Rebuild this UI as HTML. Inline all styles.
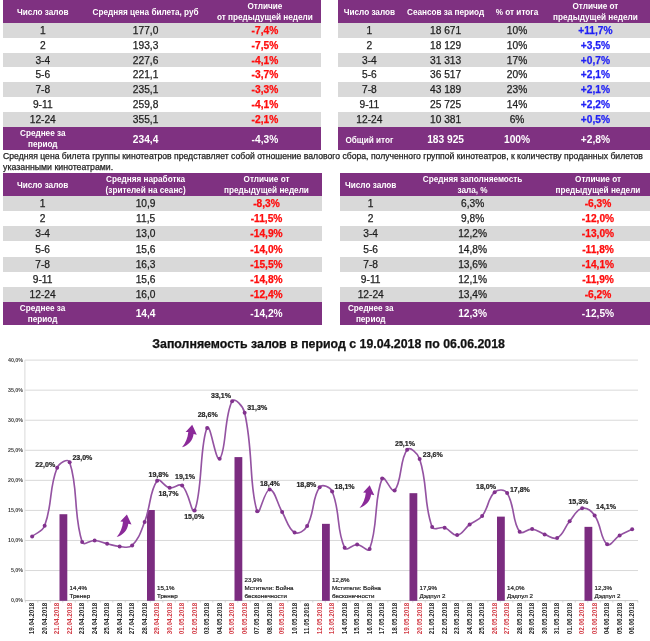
<!DOCTYPE html>
<html lang="ru"><head><meta charset="utf-8"><title>Заполняемость залов</title>
<style>
html,body{margin:0;padding:0;background:#fff;}
body{width:650px;height:641px;overflow:hidden;position:relative;will-change:transform;font-family:"Liberation Sans",Arial,sans-serif;}
.t{position:absolute;white-space:nowrap;}
.r{position:absolute;}
.xl{width:40px;height:7.2px;font-size:6.3px;font-weight:700;line-height:7.2px;text-align:center;transform:rotate(-90deg);}
</style></head><body>
<div class="r" style="left:3.00px;top:0.00px;width:317.80px;height:22.80px;background:#7f3181"></div>
<div class="r" style="left:3.00px;top:22.80px;width:317.80px;height:14.90px;background:#d9d9d9"></div>
<div class="r" style="left:3.00px;top:52.60px;width:317.80px;height:14.90px;background:#d9d9d9"></div>
<div class="r" style="left:3.00px;top:82.40px;width:317.80px;height:14.90px;background:#d9d9d9"></div>
<div class="r" style="left:3.00px;top:112.20px;width:317.80px;height:14.90px;background:#d9d9d9"></div>
<div class="r" style="left:3.00px;top:127.10px;width:317.80px;height:22.80px;background:#7f3181"></div>
<div class="t" style="left:-157.25px;top:7.84px;width:400px;font-size:8.2px;line-height:9.84px;text-align:center;color:#fff;font-weight:700;">Число залов</div>
<div class="t" style="left:-54.40px;top:7.84px;width:400px;font-size:8.2px;line-height:9.84px;text-align:center;color:#fff;font-weight:700;">Средняя цена билета, руб</div>
<div class="t" style="left:64.90px;top:2.14px;width:400px;font-size:8.2px;line-height:9.84px;text-align:center;color:#fff;font-weight:700;">Отличие</div>
<div class="t" style="left:64.90px;top:13.44px;width:400px;font-size:8.2px;line-height:9.84px;text-align:center;color:#fff;font-weight:700;">от предыдущей недели</div>
<div class="t" style="left:-157.25px;top:24.75px;width:400px;font-size:10.2px;line-height:12.24px;text-align:center;color:#1e1e1e;-webkit-text-stroke:0.25px currentColor;">1</div>
<div class="t" style="left:-54.40px;top:24.75px;width:400px;font-size:10.2px;line-height:12.24px;text-align:center;color:#1e1e1e;-webkit-text-stroke:0.25px currentColor;">177,0</div>
<div class="t" style="left:64.90px;top:24.75px;width:400px;font-size:10.2px;line-height:12.24px;text-align:center;color:#ff0d0d;font-weight:700;-webkit-text-stroke:0.25px currentColor;">-7,4%</div>
<div class="t" style="left:-157.25px;top:39.65px;width:400px;font-size:10.2px;line-height:12.24px;text-align:center;color:#1e1e1e;-webkit-text-stroke:0.25px currentColor;">2</div>
<div class="t" style="left:-54.40px;top:39.65px;width:400px;font-size:10.2px;line-height:12.24px;text-align:center;color:#1e1e1e;-webkit-text-stroke:0.25px currentColor;">193,3</div>
<div class="t" style="left:64.90px;top:39.65px;width:400px;font-size:10.2px;line-height:12.24px;text-align:center;color:#ff0d0d;font-weight:700;-webkit-text-stroke:0.25px currentColor;">-7,5%</div>
<div class="t" style="left:-157.25px;top:54.55px;width:400px;font-size:10.2px;line-height:12.24px;text-align:center;color:#1e1e1e;-webkit-text-stroke:0.25px currentColor;">3-4</div>
<div class="t" style="left:-54.40px;top:54.55px;width:400px;font-size:10.2px;line-height:12.24px;text-align:center;color:#1e1e1e;-webkit-text-stroke:0.25px currentColor;">227,6</div>
<div class="t" style="left:64.90px;top:54.55px;width:400px;font-size:10.2px;line-height:12.24px;text-align:center;color:#ff0d0d;font-weight:700;-webkit-text-stroke:0.25px currentColor;">-4,1%</div>
<div class="t" style="left:-157.25px;top:69.45px;width:400px;font-size:10.2px;line-height:12.24px;text-align:center;color:#1e1e1e;-webkit-text-stroke:0.25px currentColor;">5-6</div>
<div class="t" style="left:-54.40px;top:69.45px;width:400px;font-size:10.2px;line-height:12.24px;text-align:center;color:#1e1e1e;-webkit-text-stroke:0.25px currentColor;">221,1</div>
<div class="t" style="left:64.90px;top:69.45px;width:400px;font-size:10.2px;line-height:12.24px;text-align:center;color:#ff0d0d;font-weight:700;-webkit-text-stroke:0.25px currentColor;">-3,7%</div>
<div class="t" style="left:-157.25px;top:84.35px;width:400px;font-size:10.2px;line-height:12.24px;text-align:center;color:#1e1e1e;-webkit-text-stroke:0.25px currentColor;">7-8</div>
<div class="t" style="left:-54.40px;top:84.35px;width:400px;font-size:10.2px;line-height:12.24px;text-align:center;color:#1e1e1e;-webkit-text-stroke:0.25px currentColor;">235,1</div>
<div class="t" style="left:64.90px;top:84.35px;width:400px;font-size:10.2px;line-height:12.24px;text-align:center;color:#ff0d0d;font-weight:700;-webkit-text-stroke:0.25px currentColor;">-3,3%</div>
<div class="t" style="left:-157.25px;top:99.25px;width:400px;font-size:10.2px;line-height:12.24px;text-align:center;color:#1e1e1e;-webkit-text-stroke:0.25px currentColor;">9-11</div>
<div class="t" style="left:-54.40px;top:99.25px;width:400px;font-size:10.2px;line-height:12.24px;text-align:center;color:#1e1e1e;-webkit-text-stroke:0.25px currentColor;">259,8</div>
<div class="t" style="left:64.90px;top:99.25px;width:400px;font-size:10.2px;line-height:12.24px;text-align:center;color:#ff0d0d;font-weight:700;-webkit-text-stroke:0.25px currentColor;">-4,1%</div>
<div class="t" style="left:-157.25px;top:114.15px;width:400px;font-size:10.2px;line-height:12.24px;text-align:center;color:#1e1e1e;-webkit-text-stroke:0.25px currentColor;">12-24</div>
<div class="t" style="left:-54.40px;top:114.15px;width:400px;font-size:10.2px;line-height:12.24px;text-align:center;color:#1e1e1e;-webkit-text-stroke:0.25px currentColor;">355,1</div>
<div class="t" style="left:64.90px;top:114.15px;width:400px;font-size:10.2px;line-height:12.24px;text-align:center;color:#ff0d0d;font-weight:700;-webkit-text-stroke:0.25px currentColor;">-2,1%</div>
<div class="t" style="left:-157.25px;top:128.64px;width:400px;font-size:8.2px;line-height:9.84px;text-align:center;color:#fff;font-weight:700;">Среднее за</div>
<div class="t" style="left:-157.25px;top:140.04px;width:400px;font-size:8.2px;line-height:9.84px;text-align:center;color:#fff;font-weight:700;">период</div>
<div class="t" style="left:-54.40px;top:134.25px;width:400px;font-size:10.2px;line-height:12.24px;text-align:center;color:#fff;font-weight:700;">234,4</div>
<div class="t" style="left:64.90px;top:134.25px;width:400px;font-size:10.2px;line-height:12.24px;text-align:center;color:#fff;font-weight:700;">-4,3%</div>
<div class="r" style="left:338.00px;top:0.00px;width:312.00px;height:22.80px;background:#7f3181"></div>
<div class="r" style="left:338.00px;top:22.80px;width:312.00px;height:14.90px;background:#d9d9d9"></div>
<div class="r" style="left:338.00px;top:52.60px;width:312.00px;height:14.90px;background:#d9d9d9"></div>
<div class="r" style="left:338.00px;top:82.40px;width:312.00px;height:14.90px;background:#d9d9d9"></div>
<div class="r" style="left:338.00px;top:112.20px;width:312.00px;height:14.90px;background:#d9d9d9"></div>
<div class="r" style="left:338.00px;top:127.10px;width:312.00px;height:22.80px;background:#7f3181"></div>
<div class="t" style="left:169.40px;top:7.84px;width:400px;font-size:8.2px;line-height:9.84px;text-align:center;color:#fff;font-weight:700;">Число залов</div>
<div class="t" style="left:245.60px;top:7.84px;width:400px;font-size:8.2px;line-height:9.84px;text-align:center;color:#fff;font-weight:700;">Сеансов за период</div>
<div class="t" style="left:317.00px;top:7.84px;width:400px;font-size:8.2px;line-height:9.84px;text-align:center;color:#fff;font-weight:700;">% от итога</div>
<div class="t" style="left:395.40px;top:2.14px;width:400px;font-size:8.2px;line-height:9.84px;text-align:center;color:#fff;font-weight:700;">Отличие от</div>
<div class="t" style="left:395.40px;top:13.44px;width:400px;font-size:8.2px;line-height:9.84px;text-align:center;color:#fff;font-weight:700;">предыдущей недели</div>
<div class="t" style="left:169.40px;top:24.75px;width:400px;font-size:10.2px;line-height:12.24px;text-align:center;color:#1e1e1e;-webkit-text-stroke:0.25px currentColor;">1</div>
<div class="t" style="left:245.60px;top:24.75px;width:400px;font-size:10.2px;line-height:12.24px;text-align:center;color:#1e1e1e;-webkit-text-stroke:0.25px currentColor;">18 671</div>
<div class="t" style="left:317.00px;top:24.75px;width:400px;font-size:10.2px;line-height:12.24px;text-align:center;color:#1e1e1e;-webkit-text-stroke:0.25px currentColor;">10%</div>
<div class="t" style="left:395.40px;top:24.75px;width:400px;font-size:10.2px;line-height:12.24px;text-align:center;color:#1f1ff5;font-weight:700;-webkit-text-stroke:0.25px currentColor;">+11,7%</div>
<div class="t" style="left:169.40px;top:39.65px;width:400px;font-size:10.2px;line-height:12.24px;text-align:center;color:#1e1e1e;-webkit-text-stroke:0.25px currentColor;">2</div>
<div class="t" style="left:245.60px;top:39.65px;width:400px;font-size:10.2px;line-height:12.24px;text-align:center;color:#1e1e1e;-webkit-text-stroke:0.25px currentColor;">18 129</div>
<div class="t" style="left:317.00px;top:39.65px;width:400px;font-size:10.2px;line-height:12.24px;text-align:center;color:#1e1e1e;-webkit-text-stroke:0.25px currentColor;">10%</div>
<div class="t" style="left:395.40px;top:39.65px;width:400px;font-size:10.2px;line-height:12.24px;text-align:center;color:#1f1ff5;font-weight:700;-webkit-text-stroke:0.25px currentColor;">+3,5%</div>
<div class="t" style="left:169.40px;top:54.55px;width:400px;font-size:10.2px;line-height:12.24px;text-align:center;color:#1e1e1e;-webkit-text-stroke:0.25px currentColor;">3-4</div>
<div class="t" style="left:245.60px;top:54.55px;width:400px;font-size:10.2px;line-height:12.24px;text-align:center;color:#1e1e1e;-webkit-text-stroke:0.25px currentColor;">31 313</div>
<div class="t" style="left:317.00px;top:54.55px;width:400px;font-size:10.2px;line-height:12.24px;text-align:center;color:#1e1e1e;-webkit-text-stroke:0.25px currentColor;">17%</div>
<div class="t" style="left:395.40px;top:54.55px;width:400px;font-size:10.2px;line-height:12.24px;text-align:center;color:#1f1ff5;font-weight:700;-webkit-text-stroke:0.25px currentColor;">+0,7%</div>
<div class="t" style="left:169.40px;top:69.45px;width:400px;font-size:10.2px;line-height:12.24px;text-align:center;color:#1e1e1e;-webkit-text-stroke:0.25px currentColor;">5-6</div>
<div class="t" style="left:245.60px;top:69.45px;width:400px;font-size:10.2px;line-height:12.24px;text-align:center;color:#1e1e1e;-webkit-text-stroke:0.25px currentColor;">36 517</div>
<div class="t" style="left:317.00px;top:69.45px;width:400px;font-size:10.2px;line-height:12.24px;text-align:center;color:#1e1e1e;-webkit-text-stroke:0.25px currentColor;">20%</div>
<div class="t" style="left:395.40px;top:69.45px;width:400px;font-size:10.2px;line-height:12.24px;text-align:center;color:#1f1ff5;font-weight:700;-webkit-text-stroke:0.25px currentColor;">+2,1%</div>
<div class="t" style="left:169.40px;top:84.35px;width:400px;font-size:10.2px;line-height:12.24px;text-align:center;color:#1e1e1e;-webkit-text-stroke:0.25px currentColor;">7-8</div>
<div class="t" style="left:245.60px;top:84.35px;width:400px;font-size:10.2px;line-height:12.24px;text-align:center;color:#1e1e1e;-webkit-text-stroke:0.25px currentColor;">43 189</div>
<div class="t" style="left:317.00px;top:84.35px;width:400px;font-size:10.2px;line-height:12.24px;text-align:center;color:#1e1e1e;-webkit-text-stroke:0.25px currentColor;">23%</div>
<div class="t" style="left:395.40px;top:84.35px;width:400px;font-size:10.2px;line-height:12.24px;text-align:center;color:#1f1ff5;font-weight:700;-webkit-text-stroke:0.25px currentColor;">+2,1%</div>
<div class="t" style="left:169.40px;top:99.25px;width:400px;font-size:10.2px;line-height:12.24px;text-align:center;color:#1e1e1e;-webkit-text-stroke:0.25px currentColor;">9-11</div>
<div class="t" style="left:245.60px;top:99.25px;width:400px;font-size:10.2px;line-height:12.24px;text-align:center;color:#1e1e1e;-webkit-text-stroke:0.25px currentColor;">25 725</div>
<div class="t" style="left:317.00px;top:99.25px;width:400px;font-size:10.2px;line-height:12.24px;text-align:center;color:#1e1e1e;-webkit-text-stroke:0.25px currentColor;">14%</div>
<div class="t" style="left:395.40px;top:99.25px;width:400px;font-size:10.2px;line-height:12.24px;text-align:center;color:#1f1ff5;font-weight:700;-webkit-text-stroke:0.25px currentColor;">+2,2%</div>
<div class="t" style="left:169.40px;top:114.15px;width:400px;font-size:10.2px;line-height:12.24px;text-align:center;color:#1e1e1e;-webkit-text-stroke:0.25px currentColor;">12-24</div>
<div class="t" style="left:245.60px;top:114.15px;width:400px;font-size:10.2px;line-height:12.24px;text-align:center;color:#1e1e1e;-webkit-text-stroke:0.25px currentColor;">10 381</div>
<div class="t" style="left:317.00px;top:114.15px;width:400px;font-size:10.2px;line-height:12.24px;text-align:center;color:#1e1e1e;-webkit-text-stroke:0.25px currentColor;">6%</div>
<div class="t" style="left:395.40px;top:114.15px;width:400px;font-size:10.2px;line-height:12.24px;text-align:center;color:#1f1ff5;font-weight:700;-webkit-text-stroke:0.25px currentColor;">+0,5%</div>
<div class="t" style="left:169.40px;top:136.14px;width:400px;font-size:8.2px;line-height:9.84px;text-align:center;color:#fff;font-weight:700;">Общий итог</div>
<div class="t" style="left:245.60px;top:134.25px;width:400px;font-size:10.2px;line-height:12.24px;text-align:center;color:#fff;font-weight:700;">183 925</div>
<div class="t" style="left:317.00px;top:134.25px;width:400px;font-size:10.2px;line-height:12.24px;text-align:center;color:#fff;font-weight:700;">100%</div>
<div class="t" style="left:395.40px;top:134.25px;width:400px;font-size:10.2px;line-height:12.24px;text-align:center;color:#fff;font-weight:700;">+2,8%</div>
<div class="t" style="left:3.10px;top:150.83px;width:400px;font-size:8.63px;line-height:10.36px;text-align:left;color:#1e1e1e;-webkit-text-stroke:0.25px currentColor;">Средняя цена билета группы кинотеатров представляет собой отношение валового сбора, полученного группой кинотеатров, к количеству проданных билетов</div>
<div class="t" style="left:3.10px;top:161.82px;width:400px;font-size:8.75px;line-height:10.50px;text-align:left;color:#1e1e1e;-webkit-text-stroke:0.25px currentColor;">указанными кинотеатрами.</div>
<div class="r" style="left:3.00px;top:173.00px;width:319.00px;height:22.60px;background:#7f3181"></div>
<div class="r" style="left:3.00px;top:195.60px;width:319.00px;height:15.25px;background:#d9d9d9"></div>
<div class="r" style="left:3.00px;top:226.10px;width:319.00px;height:15.25px;background:#d9d9d9"></div>
<div class="r" style="left:3.00px;top:256.60px;width:319.00px;height:15.25px;background:#d9d9d9"></div>
<div class="r" style="left:3.00px;top:287.10px;width:319.00px;height:15.25px;background:#d9d9d9"></div>
<div class="r" style="left:3.00px;top:302.35px;width:319.00px;height:22.65px;background:#7f3181"></div>
<div class="t" style="left:-157.40px;top:181.34px;width:400px;font-size:8.2px;line-height:9.84px;text-align:center;color:#fff;font-weight:700;">Число залов</div>
<div class="t" style="left:-54.40px;top:175.04px;width:400px;font-size:8.2px;line-height:9.84px;text-align:center;color:#fff;font-weight:700;">Средняя наработка</div>
<div class="t" style="left:-54.40px;top:185.84px;width:400px;font-size:8.2px;line-height:9.84px;text-align:center;color:#fff;font-weight:700;">(зрителей на сеанс)</div>
<div class="t" style="left:66.50px;top:175.04px;width:400px;font-size:8.2px;line-height:9.84px;text-align:center;color:#fff;font-weight:700;">Отличие от</div>
<div class="t" style="left:66.50px;top:185.84px;width:400px;font-size:8.2px;line-height:9.84px;text-align:center;color:#fff;font-weight:700;">предыдущей недели</div>
<div class="t" style="left:-157.40px;top:197.95px;width:400px;font-size:10.2px;line-height:12.24px;text-align:center;color:#1e1e1e;-webkit-text-stroke:0.25px currentColor;">1</div>
<div class="t" style="left:-54.40px;top:197.95px;width:400px;font-size:10.2px;line-height:12.24px;text-align:center;color:#1e1e1e;-webkit-text-stroke:0.25px currentColor;">10,9</div>
<div class="t" style="left:66.50px;top:197.95px;width:400px;font-size:10.2px;line-height:12.24px;text-align:center;color:#ff0d0d;font-weight:700;-webkit-text-stroke:0.25px currentColor;">-8,3%</div>
<div class="t" style="left:-157.40px;top:213.20px;width:400px;font-size:10.2px;line-height:12.24px;text-align:center;color:#1e1e1e;-webkit-text-stroke:0.25px currentColor;">2</div>
<div class="t" style="left:-54.40px;top:213.20px;width:400px;font-size:10.2px;line-height:12.24px;text-align:center;color:#1e1e1e;-webkit-text-stroke:0.25px currentColor;">11,5</div>
<div class="t" style="left:66.50px;top:213.20px;width:400px;font-size:10.2px;line-height:12.24px;text-align:center;color:#ff0d0d;font-weight:700;-webkit-text-stroke:0.25px currentColor;">-11,5%</div>
<div class="t" style="left:-157.40px;top:228.45px;width:400px;font-size:10.2px;line-height:12.24px;text-align:center;color:#1e1e1e;-webkit-text-stroke:0.25px currentColor;">3-4</div>
<div class="t" style="left:-54.40px;top:228.45px;width:400px;font-size:10.2px;line-height:12.24px;text-align:center;color:#1e1e1e;-webkit-text-stroke:0.25px currentColor;">13,0</div>
<div class="t" style="left:66.50px;top:228.45px;width:400px;font-size:10.2px;line-height:12.24px;text-align:center;color:#ff0d0d;font-weight:700;-webkit-text-stroke:0.25px currentColor;">-14,9%</div>
<div class="t" style="left:-157.40px;top:243.70px;width:400px;font-size:10.2px;line-height:12.24px;text-align:center;color:#1e1e1e;-webkit-text-stroke:0.25px currentColor;">5-6</div>
<div class="t" style="left:-54.40px;top:243.70px;width:400px;font-size:10.2px;line-height:12.24px;text-align:center;color:#1e1e1e;-webkit-text-stroke:0.25px currentColor;">15,6</div>
<div class="t" style="left:66.50px;top:243.70px;width:400px;font-size:10.2px;line-height:12.24px;text-align:center;color:#ff0d0d;font-weight:700;-webkit-text-stroke:0.25px currentColor;">-14,0%</div>
<div class="t" style="left:-157.40px;top:258.95px;width:400px;font-size:10.2px;line-height:12.24px;text-align:center;color:#1e1e1e;-webkit-text-stroke:0.25px currentColor;">7-8</div>
<div class="t" style="left:-54.40px;top:258.95px;width:400px;font-size:10.2px;line-height:12.24px;text-align:center;color:#1e1e1e;-webkit-text-stroke:0.25px currentColor;">16,3</div>
<div class="t" style="left:66.50px;top:258.95px;width:400px;font-size:10.2px;line-height:12.24px;text-align:center;color:#ff0d0d;font-weight:700;-webkit-text-stroke:0.25px currentColor;">-15,5%</div>
<div class="t" style="left:-157.40px;top:274.20px;width:400px;font-size:10.2px;line-height:12.24px;text-align:center;color:#1e1e1e;-webkit-text-stroke:0.25px currentColor;">9-11</div>
<div class="t" style="left:-54.40px;top:274.20px;width:400px;font-size:10.2px;line-height:12.24px;text-align:center;color:#1e1e1e;-webkit-text-stroke:0.25px currentColor;">15,6</div>
<div class="t" style="left:66.50px;top:274.20px;width:400px;font-size:10.2px;line-height:12.24px;text-align:center;color:#ff0d0d;font-weight:700;-webkit-text-stroke:0.25px currentColor;">-14,8%</div>
<div class="t" style="left:-157.40px;top:289.45px;width:400px;font-size:10.2px;line-height:12.24px;text-align:center;color:#1e1e1e;-webkit-text-stroke:0.25px currentColor;">12-24</div>
<div class="t" style="left:-54.40px;top:289.45px;width:400px;font-size:10.2px;line-height:12.24px;text-align:center;color:#1e1e1e;-webkit-text-stroke:0.25px currentColor;">16,0</div>
<div class="t" style="left:66.50px;top:289.45px;width:400px;font-size:10.2px;line-height:12.24px;text-align:center;color:#ff0d0d;font-weight:700;-webkit-text-stroke:0.25px currentColor;">-12,4%</div>
<div class="t" style="left:-157.40px;top:303.94px;width:400px;font-size:8.2px;line-height:9.84px;text-align:center;color:#fff;font-weight:700;">Среднее за</div>
<div class="t" style="left:-157.40px;top:315.14px;width:400px;font-size:8.2px;line-height:9.84px;text-align:center;color:#fff;font-weight:700;">период</div>
<div class="t" style="left:-54.40px;top:308.05px;width:400px;font-size:10.2px;line-height:12.24px;text-align:center;color:#fff;font-weight:700;">14,4</div>
<div class="t" style="left:66.50px;top:308.05px;width:400px;font-size:10.2px;line-height:12.24px;text-align:center;color:#fff;font-weight:700;">-14,2%</div>
<div class="r" style="left:339.60px;top:173.00px;width:310.40px;height:22.60px;background:#7f3181"></div>
<div class="r" style="left:339.60px;top:195.60px;width:310.40px;height:15.25px;background:#d9d9d9"></div>
<div class="r" style="left:339.60px;top:226.10px;width:310.40px;height:15.25px;background:#d9d9d9"></div>
<div class="r" style="left:339.60px;top:256.60px;width:310.40px;height:15.25px;background:#d9d9d9"></div>
<div class="r" style="left:339.60px;top:287.10px;width:310.40px;height:15.25px;background:#d9d9d9"></div>
<div class="r" style="left:339.60px;top:302.35px;width:310.40px;height:22.65px;background:#7f3181"></div>
<div class="t" style="left:170.70px;top:181.34px;width:400px;font-size:8.2px;line-height:9.84px;text-align:center;color:#fff;font-weight:700;">Число залов</div>
<div class="t" style="left:272.60px;top:175.04px;width:400px;font-size:8.2px;line-height:9.84px;text-align:center;color:#fff;font-weight:700;">Средняя заполняемость</div>
<div class="t" style="left:272.60px;top:185.84px;width:400px;font-size:8.2px;line-height:9.84px;text-align:center;color:#fff;font-weight:700;">зала, %</div>
<div class="t" style="left:398.00px;top:175.04px;width:400px;font-size:8.2px;line-height:9.84px;text-align:center;color:#fff;font-weight:700;">Отличие от</div>
<div class="t" style="left:398.00px;top:185.84px;width:400px;font-size:8.2px;line-height:9.84px;text-align:center;color:#fff;font-weight:700;">предыдущей недели</div>
<div class="t" style="left:170.70px;top:197.95px;width:400px;font-size:10.2px;line-height:12.24px;text-align:center;color:#1e1e1e;-webkit-text-stroke:0.25px currentColor;">1</div>
<div class="t" style="left:272.60px;top:197.95px;width:400px;font-size:10.2px;line-height:12.24px;text-align:center;color:#1e1e1e;-webkit-text-stroke:0.25px currentColor;">6,3%</div>
<div class="t" style="left:398.00px;top:197.95px;width:400px;font-size:10.2px;line-height:12.24px;text-align:center;color:#ff0d0d;font-weight:700;-webkit-text-stroke:0.25px currentColor;">-6,3%</div>
<div class="t" style="left:170.70px;top:213.20px;width:400px;font-size:10.2px;line-height:12.24px;text-align:center;color:#1e1e1e;-webkit-text-stroke:0.25px currentColor;">2</div>
<div class="t" style="left:272.60px;top:213.20px;width:400px;font-size:10.2px;line-height:12.24px;text-align:center;color:#1e1e1e;-webkit-text-stroke:0.25px currentColor;">9,8%</div>
<div class="t" style="left:398.00px;top:213.20px;width:400px;font-size:10.2px;line-height:12.24px;text-align:center;color:#ff0d0d;font-weight:700;-webkit-text-stroke:0.25px currentColor;">-12,0%</div>
<div class="t" style="left:170.70px;top:228.45px;width:400px;font-size:10.2px;line-height:12.24px;text-align:center;color:#1e1e1e;-webkit-text-stroke:0.25px currentColor;">3-4</div>
<div class="t" style="left:272.60px;top:228.45px;width:400px;font-size:10.2px;line-height:12.24px;text-align:center;color:#1e1e1e;-webkit-text-stroke:0.25px currentColor;">12,2%</div>
<div class="t" style="left:398.00px;top:228.45px;width:400px;font-size:10.2px;line-height:12.24px;text-align:center;color:#ff0d0d;font-weight:700;-webkit-text-stroke:0.25px currentColor;">-13,0%</div>
<div class="t" style="left:170.70px;top:243.70px;width:400px;font-size:10.2px;line-height:12.24px;text-align:center;color:#1e1e1e;-webkit-text-stroke:0.25px currentColor;">5-6</div>
<div class="t" style="left:272.60px;top:243.70px;width:400px;font-size:10.2px;line-height:12.24px;text-align:center;color:#1e1e1e;-webkit-text-stroke:0.25px currentColor;">14,8%</div>
<div class="t" style="left:398.00px;top:243.70px;width:400px;font-size:10.2px;line-height:12.24px;text-align:center;color:#ff0d0d;font-weight:700;-webkit-text-stroke:0.25px currentColor;">-11,8%</div>
<div class="t" style="left:170.70px;top:258.95px;width:400px;font-size:10.2px;line-height:12.24px;text-align:center;color:#1e1e1e;-webkit-text-stroke:0.25px currentColor;">7-8</div>
<div class="t" style="left:272.60px;top:258.95px;width:400px;font-size:10.2px;line-height:12.24px;text-align:center;color:#1e1e1e;-webkit-text-stroke:0.25px currentColor;">13,6%</div>
<div class="t" style="left:398.00px;top:258.95px;width:400px;font-size:10.2px;line-height:12.24px;text-align:center;color:#ff0d0d;font-weight:700;-webkit-text-stroke:0.25px currentColor;">-14,1%</div>
<div class="t" style="left:170.70px;top:274.20px;width:400px;font-size:10.2px;line-height:12.24px;text-align:center;color:#1e1e1e;-webkit-text-stroke:0.25px currentColor;">9-11</div>
<div class="t" style="left:272.60px;top:274.20px;width:400px;font-size:10.2px;line-height:12.24px;text-align:center;color:#1e1e1e;-webkit-text-stroke:0.25px currentColor;">12,1%</div>
<div class="t" style="left:398.00px;top:274.20px;width:400px;font-size:10.2px;line-height:12.24px;text-align:center;color:#ff0d0d;font-weight:700;-webkit-text-stroke:0.25px currentColor;">-11,9%</div>
<div class="t" style="left:170.70px;top:289.45px;width:400px;font-size:10.2px;line-height:12.24px;text-align:center;color:#1e1e1e;-webkit-text-stroke:0.25px currentColor;">12-24</div>
<div class="t" style="left:272.60px;top:289.45px;width:400px;font-size:10.2px;line-height:12.24px;text-align:center;color:#1e1e1e;-webkit-text-stroke:0.25px currentColor;">13,4%</div>
<div class="t" style="left:398.00px;top:289.45px;width:400px;font-size:10.2px;line-height:12.24px;text-align:center;color:#ff0d0d;font-weight:700;-webkit-text-stroke:0.25px currentColor;">-6,2%</div>
<div class="t" style="left:170.70px;top:303.94px;width:400px;font-size:8.2px;line-height:9.84px;text-align:center;color:#fff;font-weight:700;">Среднее за</div>
<div class="t" style="left:170.70px;top:315.14px;width:400px;font-size:8.2px;line-height:9.84px;text-align:center;color:#fff;font-weight:700;">период</div>
<div class="t" style="left:272.60px;top:308.05px;width:400px;font-size:10.2px;line-height:12.24px;text-align:center;color:#fff;font-weight:700;">12,3%</div>
<div class="t" style="left:398.00px;top:308.05px;width:400px;font-size:10.2px;line-height:12.24px;text-align:center;color:#fff;font-weight:700;">-12,5%</div>
<svg class="ch" width="650" height="641" viewBox="0 0 650 641" style="position:absolute;left:0;top:0">
<line x1="24.9" y1="570.54" x2="638.00" y2="570.54" stroke="#d9d9d9" stroke-width="1"/>
<line x1="24.9" y1="540.48" x2="638.00" y2="540.48" stroke="#d9d9d9" stroke-width="1"/>
<line x1="24.9" y1="510.41" x2="638.00" y2="510.41" stroke="#d9d9d9" stroke-width="1"/>
<line x1="24.9" y1="480.35" x2="638.00" y2="480.35" stroke="#d9d9d9" stroke-width="1"/>
<line x1="24.9" y1="450.29" x2="638.00" y2="450.29" stroke="#d9d9d9" stroke-width="1"/>
<line x1="24.9" y1="420.23" x2="638.00" y2="420.23" stroke="#d9d9d9" stroke-width="1"/>
<line x1="24.9" y1="390.16" x2="638.00" y2="390.16" stroke="#d9d9d9" stroke-width="1"/>
<line x1="24.9" y1="360.10" x2="638.00" y2="360.10" stroke="#d9d9d9" stroke-width="1"/>
<line x1="24.9" y1="360.10" x2="24.9" y2="600.60" stroke="#d9d9d9" stroke-width="1"/>
<line x1="24.9" y1="600.60" x2="638.00" y2="600.60" stroke="#c8c8c8" stroke-width="1"/>
<line x1="25.30" y1="600.60" x2="25.30" y2="602.60" stroke="#c8c8c8" stroke-width="0.8"/>
<line x1="37.80" y1="600.60" x2="37.80" y2="602.60" stroke="#c8c8c8" stroke-width="0.8"/>
<line x1="50.30" y1="600.60" x2="50.30" y2="602.60" stroke="#c8c8c8" stroke-width="0.8"/>
<line x1="62.80" y1="600.60" x2="62.80" y2="602.60" stroke="#c8c8c8" stroke-width="0.8"/>
<line x1="75.30" y1="600.60" x2="75.30" y2="602.60" stroke="#c8c8c8" stroke-width="0.8"/>
<line x1="87.80" y1="600.60" x2="87.80" y2="602.60" stroke="#c8c8c8" stroke-width="0.8"/>
<line x1="100.30" y1="600.60" x2="100.30" y2="602.60" stroke="#c8c8c8" stroke-width="0.8"/>
<line x1="112.80" y1="600.60" x2="112.80" y2="602.60" stroke="#c8c8c8" stroke-width="0.8"/>
<line x1="125.30" y1="600.60" x2="125.30" y2="602.60" stroke="#c8c8c8" stroke-width="0.8"/>
<line x1="137.80" y1="600.60" x2="137.80" y2="602.60" stroke="#c8c8c8" stroke-width="0.8"/>
<line x1="150.30" y1="600.60" x2="150.30" y2="602.60" stroke="#c8c8c8" stroke-width="0.8"/>
<line x1="162.80" y1="600.60" x2="162.80" y2="602.60" stroke="#c8c8c8" stroke-width="0.8"/>
<line x1="175.30" y1="600.60" x2="175.30" y2="602.60" stroke="#c8c8c8" stroke-width="0.8"/>
<line x1="187.80" y1="600.60" x2="187.80" y2="602.60" stroke="#c8c8c8" stroke-width="0.8"/>
<line x1="200.30" y1="600.60" x2="200.30" y2="602.60" stroke="#c8c8c8" stroke-width="0.8"/>
<line x1="212.80" y1="600.60" x2="212.80" y2="602.60" stroke="#c8c8c8" stroke-width="0.8"/>
<line x1="225.30" y1="600.60" x2="225.30" y2="602.60" stroke="#c8c8c8" stroke-width="0.8"/>
<line x1="237.80" y1="600.60" x2="237.80" y2="602.60" stroke="#c8c8c8" stroke-width="0.8"/>
<line x1="250.30" y1="600.60" x2="250.30" y2="602.60" stroke="#c8c8c8" stroke-width="0.8"/>
<line x1="262.80" y1="600.60" x2="262.80" y2="602.60" stroke="#c8c8c8" stroke-width="0.8"/>
<line x1="275.30" y1="600.60" x2="275.30" y2="602.60" stroke="#c8c8c8" stroke-width="0.8"/>
<line x1="287.80" y1="600.60" x2="287.80" y2="602.60" stroke="#c8c8c8" stroke-width="0.8"/>
<line x1="300.30" y1="600.60" x2="300.30" y2="602.60" stroke="#c8c8c8" stroke-width="0.8"/>
<line x1="312.80" y1="600.60" x2="312.80" y2="602.60" stroke="#c8c8c8" stroke-width="0.8"/>
<line x1="325.30" y1="600.60" x2="325.30" y2="602.60" stroke="#c8c8c8" stroke-width="0.8"/>
<line x1="337.80" y1="600.60" x2="337.80" y2="602.60" stroke="#c8c8c8" stroke-width="0.8"/>
<line x1="350.30" y1="600.60" x2="350.30" y2="602.60" stroke="#c8c8c8" stroke-width="0.8"/>
<line x1="362.80" y1="600.60" x2="362.80" y2="602.60" stroke="#c8c8c8" stroke-width="0.8"/>
<line x1="375.30" y1="600.60" x2="375.30" y2="602.60" stroke="#c8c8c8" stroke-width="0.8"/>
<line x1="387.80" y1="600.60" x2="387.80" y2="602.60" stroke="#c8c8c8" stroke-width="0.8"/>
<line x1="400.30" y1="600.60" x2="400.30" y2="602.60" stroke="#c8c8c8" stroke-width="0.8"/>
<line x1="412.80" y1="600.60" x2="412.80" y2="602.60" stroke="#c8c8c8" stroke-width="0.8"/>
<line x1="425.30" y1="600.60" x2="425.30" y2="602.60" stroke="#c8c8c8" stroke-width="0.8"/>
<line x1="437.80" y1="600.60" x2="437.80" y2="602.60" stroke="#c8c8c8" stroke-width="0.8"/>
<line x1="450.30" y1="600.60" x2="450.30" y2="602.60" stroke="#c8c8c8" stroke-width="0.8"/>
<line x1="462.80" y1="600.60" x2="462.80" y2="602.60" stroke="#c8c8c8" stroke-width="0.8"/>
<line x1="475.30" y1="600.60" x2="475.30" y2="602.60" stroke="#c8c8c8" stroke-width="0.8"/>
<line x1="487.80" y1="600.60" x2="487.80" y2="602.60" stroke="#c8c8c8" stroke-width="0.8"/>
<line x1="500.30" y1="600.60" x2="500.30" y2="602.60" stroke="#c8c8c8" stroke-width="0.8"/>
<line x1="512.80" y1="600.60" x2="512.80" y2="602.60" stroke="#c8c8c8" stroke-width="0.8"/>
<line x1="525.30" y1="600.60" x2="525.30" y2="602.60" stroke="#c8c8c8" stroke-width="0.8"/>
<line x1="537.80" y1="600.60" x2="537.80" y2="602.60" stroke="#c8c8c8" stroke-width="0.8"/>
<line x1="550.30" y1="600.60" x2="550.30" y2="602.60" stroke="#c8c8c8" stroke-width="0.8"/>
<line x1="562.80" y1="600.60" x2="562.80" y2="602.60" stroke="#c8c8c8" stroke-width="0.8"/>
<line x1="575.30" y1="600.60" x2="575.30" y2="602.60" stroke="#c8c8c8" stroke-width="0.8"/>
<line x1="587.80" y1="600.60" x2="587.80" y2="602.60" stroke="#c8c8c8" stroke-width="0.8"/>
<line x1="600.30" y1="600.60" x2="600.30" y2="602.60" stroke="#c8c8c8" stroke-width="0.8"/>
<line x1="612.80" y1="600.60" x2="612.80" y2="602.60" stroke="#c8c8c8" stroke-width="0.8"/>
<line x1="625.30" y1="600.60" x2="625.30" y2="602.60" stroke="#c8c8c8" stroke-width="0.8"/>
<line x1="637.80" y1="600.60" x2="637.80" y2="602.60" stroke="#c8c8c8" stroke-width="0.8"/>
<rect x="59.50" y="514.22" width="7.8" height="86.58" fill="#7b2c80"/>
<rect x="147.00" y="510.01" width="7.8" height="90.79" fill="#7b2c80"/>
<rect x="234.50" y="457.10" width="7.8" height="143.70" fill="#7b2c80"/>
<rect x="322.00" y="523.84" width="7.8" height="76.96" fill="#7b2c80"/>
<rect x="409.50" y="493.18" width="7.8" height="107.62" fill="#7b2c80"/>
<rect x="497.00" y="516.63" width="7.8" height="84.17" fill="#7b2c80"/>
<rect x="584.50" y="526.85" width="7.8" height="73.95" fill="#7b2c80"/>
<path d="M32.15,536.40 C37.40,531.95 42.38,532.04 44.65,525.80 C52.88,503.22 48.62,489.50 57.15,467.80 C59.12,462.79 68.13,457.68 69.65,462.20 C78.63,488.89 73.07,513.65 82.15,542.10 C83.57,546.53 89.46,540.17 94.65,540.50 C99.96,540.84 101.88,542.44 107.15,543.70 C112.38,544.96 114.35,546.14 119.65,546.50 C124.85,546.85 128.79,548.71 132.15,545.40 C139.29,538.38 140.63,532.28 144.65,521.90 C151.13,505.15 149.28,491.54 157.15,480.80 C159.78,477.22 164.08,486.73 169.65,487.80 C174.58,488.75 178.86,482.62 182.15,485.60 C189.36,492.11 192.03,516.45 194.65,510.40 C202.53,492.22 199.65,443.39 207.15,427.90 C210.15,421.71 215.86,462.85 219.65,458.80 C226.36,451.64 224.00,416.23 232.15,401.20 C234.50,396.87 243.12,405.95 244.65,412.70 C253.62,452.19 248.77,485.55 257.15,511.30 C259.27,517.81 264.46,489.35 269.65,489.50 C274.96,489.65 276.72,502.66 282.15,512.00 C287.22,520.72 288.03,528.79 294.65,532.50 C298.53,534.67 304.45,530.88 307.15,526.00 C314.95,511.90 311.72,498.24 319.65,487.30 C322.22,483.75 330.20,486.77 332.15,491.50 C340.70,512.18 336.07,529.58 344.65,547.80 C346.57,551.88 351.96,544.37 357.15,544.60 C362.46,544.83 368.01,553.23 369.65,548.90 C378.51,525.51 373.69,498.40 382.15,478.60 C384.19,473.83 391.63,493.89 394.65,490.40 C402.13,481.77 399.45,459.45 407.15,449.75 C409.95,446.22 417.73,452.97 419.65,458.90 C428.23,485.45 423.26,502.62 432.15,527.10 C433.76,531.52 439.79,526.14 444.65,527.70 C450.29,529.50 452.22,535.73 457.15,535.10 C462.72,534.39 464.19,528.67 469.65,524.50 C474.69,520.65 478.37,520.88 482.15,516.00 C488.87,507.32 487.49,498.76 494.65,492.20 C497.99,489.14 504.68,489.18 507.15,493.10 C515.18,505.81 511.66,520.30 519.65,531.80 C522.16,535.42 527.06,528.57 532.15,529.10 C537.56,529.66 539.28,532.51 544.65,534.40 C549.78,536.21 553.11,540.02 557.15,537.90 C563.61,534.51 564.03,527.96 569.65,521.30 C574.53,515.52 576.32,509.65 582.15,508.30 C586.82,507.22 591.34,510.74 594.65,515.50 C601.84,525.86 600.10,538.69 607.15,544.30 C610.60,547.04 614.14,538.70 619.65,535.40 C624.64,532.40 626.90,531.86 632.15,529.30" fill="none" stroke="#9453a2" stroke-width="1.65" stroke-linejoin="round"/>
<circle cx="32.15" cy="536.40" r="2.0" fill="#82328e"/>
<circle cx="44.65" cy="525.80" r="2.0" fill="#82328e"/>
<circle cx="57.15" cy="467.80" r="2.0" fill="#82328e"/>
<circle cx="69.65" cy="462.20" r="2.0" fill="#82328e"/>
<circle cx="82.15" cy="542.10" r="2.0" fill="#82328e"/>
<circle cx="94.65" cy="540.50" r="2.0" fill="#82328e"/>
<circle cx="107.15" cy="543.70" r="2.0" fill="#82328e"/>
<circle cx="119.65" cy="546.50" r="2.0" fill="#82328e"/>
<circle cx="132.15" cy="545.40" r="2.0" fill="#82328e"/>
<circle cx="144.65" cy="521.90" r="2.0" fill="#82328e"/>
<circle cx="157.15" cy="480.80" r="2.0" fill="#82328e"/>
<circle cx="169.65" cy="487.80" r="2.0" fill="#82328e"/>
<circle cx="182.15" cy="485.60" r="2.0" fill="#82328e"/>
<circle cx="194.65" cy="510.40" r="2.0" fill="#82328e"/>
<circle cx="207.15" cy="427.90" r="2.0" fill="#82328e"/>
<circle cx="219.65" cy="458.80" r="2.0" fill="#82328e"/>
<circle cx="232.15" cy="401.20" r="2.0" fill="#82328e"/>
<circle cx="244.65" cy="412.70" r="2.0" fill="#82328e"/>
<circle cx="257.15" cy="511.30" r="2.0" fill="#82328e"/>
<circle cx="269.65" cy="489.50" r="2.0" fill="#82328e"/>
<circle cx="282.15" cy="512.00" r="2.0" fill="#82328e"/>
<circle cx="294.65" cy="532.50" r="2.0" fill="#82328e"/>
<circle cx="307.15" cy="526.00" r="2.0" fill="#82328e"/>
<circle cx="319.65" cy="487.30" r="2.0" fill="#82328e"/>
<circle cx="332.15" cy="491.50" r="2.0" fill="#82328e"/>
<circle cx="344.65" cy="547.80" r="2.0" fill="#82328e"/>
<circle cx="357.15" cy="544.60" r="2.0" fill="#82328e"/>
<circle cx="369.65" cy="548.90" r="2.0" fill="#82328e"/>
<circle cx="382.15" cy="478.60" r="2.0" fill="#82328e"/>
<circle cx="394.65" cy="490.40" r="2.0" fill="#82328e"/>
<circle cx="407.15" cy="449.75" r="2.0" fill="#82328e"/>
<circle cx="419.65" cy="458.90" r="2.0" fill="#82328e"/>
<circle cx="432.15" cy="527.10" r="2.0" fill="#82328e"/>
<circle cx="444.65" cy="527.70" r="2.0" fill="#82328e"/>
<circle cx="457.15" cy="535.10" r="2.0" fill="#82328e"/>
<circle cx="469.65" cy="524.50" r="2.0" fill="#82328e"/>
<circle cx="482.15" cy="516.00" r="2.0" fill="#82328e"/>
<circle cx="494.65" cy="492.20" r="2.0" fill="#82328e"/>
<circle cx="507.15" cy="493.10" r="2.0" fill="#82328e"/>
<circle cx="519.65" cy="531.80" r="2.0" fill="#82328e"/>
<circle cx="532.15" cy="529.10" r="2.0" fill="#82328e"/>
<circle cx="544.65" cy="534.40" r="2.0" fill="#82328e"/>
<circle cx="557.15" cy="537.90" r="2.0" fill="#82328e"/>
<circle cx="569.65" cy="521.30" r="2.0" fill="#82328e"/>
<circle cx="582.15" cy="508.30" r="2.0" fill="#82328e"/>
<circle cx="594.65" cy="515.50" r="2.0" fill="#82328e"/>
<circle cx="607.15" cy="544.30" r="2.0" fill="#82328e"/>
<circle cx="619.65" cy="535.40" r="2.0" fill="#82328e"/>
<circle cx="632.15" cy="529.30" r="2.0" fill="#82328e"/>
<path d="M126.90,514.40 L131.50,524.40 L128.30,523.70 C127.50,529.90 123.50,535.00 116.70,537.00 C120.30,533.20 122.50,527.60 123.00,521.80 L120.30,521.60 Z" fill="#8b2a99"/>
<path d="M192.20,424.70 L196.80,434.70 L193.60,434.00 C192.80,440.20 188.80,445.30 182.00,447.30 C185.60,443.50 187.80,437.90 188.30,432.10 L185.60,431.90 Z" fill="#8b2a99"/>
<path d="M369.70,485.30 L374.30,495.30 L371.10,494.60 C370.30,500.80 366.30,505.90 359.50,507.90 C363.10,504.10 365.30,498.50 365.80,492.70 L363.10,492.50 Z" fill="#8b2a99"/>
</svg>
<div class="t" style="left:152.30px;top:337.31px;width:400px;font-size:12.35px;line-height:14.82px;text-align:left;color:#111;font-weight:700;-webkit-text-stroke:0.25px #111;">Заполняемость залов в период с 19.04.2018 по 06.06.2018</div>
<div class="t" style="left:-377.00px;top:597.48px;width:400px;font-size:5.3px;line-height:6.36px;text-align:right;color:#3c3c3c;font-weight:700;">0,0%</div>
<div class="t" style="left:-377.00px;top:567.42px;width:400px;font-size:5.3px;line-height:6.36px;text-align:right;color:#3c3c3c;font-weight:700;">5,0%</div>
<div class="t" style="left:-377.00px;top:537.36px;width:400px;font-size:5.3px;line-height:6.36px;text-align:right;color:#3c3c3c;font-weight:700;">10,0%</div>
<div class="t" style="left:-377.00px;top:507.30px;width:400px;font-size:5.3px;line-height:6.36px;text-align:right;color:#3c3c3c;font-weight:700;">15,0%</div>
<div class="t" style="left:-377.00px;top:477.23px;width:400px;font-size:5.3px;line-height:6.36px;text-align:right;color:#3c3c3c;font-weight:700;">20,0%</div>
<div class="t" style="left:-377.00px;top:447.17px;width:400px;font-size:5.3px;line-height:6.36px;text-align:right;color:#3c3c3c;font-weight:700;">25,0%</div>
<div class="t" style="left:-377.00px;top:417.11px;width:400px;font-size:5.3px;line-height:6.36px;text-align:right;color:#3c3c3c;font-weight:700;">30,0%</div>
<div class="t" style="left:-377.00px;top:387.05px;width:400px;font-size:5.3px;line-height:6.36px;text-align:right;color:#3c3c3c;font-weight:700;">35,0%</div>
<div class="t" style="left:-377.00px;top:356.98px;width:400px;font-size:5.3px;line-height:6.36px;text-align:right;color:#3c3c3c;font-weight:700;">40,0%</div>
<div class="t xl" style="left:12.45px;top:614.75px;color:#262626">19.04.2018</div>
<div class="t xl" style="left:24.95px;top:614.75px;color:#262626">20.04.2018</div>
<div class="t xl" style="left:37.45px;top:614.75px;color:#d23a44">21.04.2018</div>
<div class="t xl" style="left:49.95px;top:614.75px;color:#d23a44">22.04.2018</div>
<div class="t xl" style="left:62.45px;top:614.75px;color:#262626">23.04.2018</div>
<div class="t xl" style="left:74.95px;top:614.75px;color:#262626">24.04.2018</div>
<div class="t xl" style="left:87.45px;top:614.75px;color:#262626">25.04.2018</div>
<div class="t xl" style="left:99.95px;top:614.75px;color:#262626">26.04.2018</div>
<div class="t xl" style="left:112.45px;top:614.75px;color:#262626">27.04.2018</div>
<div class="t xl" style="left:124.95px;top:614.75px;color:#262626">28.04.2018</div>
<div class="t xl" style="left:137.45px;top:614.75px;color:#d23a44">29.04.2018</div>
<div class="t xl" style="left:149.95px;top:614.75px;color:#d23a44">30.04.2018</div>
<div class="t xl" style="left:162.45px;top:614.75px;color:#d23a44">01.05.2018</div>
<div class="t xl" style="left:174.95px;top:614.75px;color:#d23a44">02.05.2018</div>
<div class="t xl" style="left:187.45px;top:614.75px;color:#262626">03.05.2018</div>
<div class="t xl" style="left:199.95px;top:614.75px;color:#262626">04.05.2018</div>
<div class="t xl" style="left:212.45px;top:614.75px;color:#d23a44">05.05.2018</div>
<div class="t xl" style="left:224.95px;top:614.75px;color:#d23a44">06.05.2018</div>
<div class="t xl" style="left:237.45px;top:614.75px;color:#262626">07.05.2018</div>
<div class="t xl" style="left:249.95px;top:614.75px;color:#262626">08.05.2018</div>
<div class="t xl" style="left:262.45px;top:614.75px;color:#d23a44">09.05.2018</div>
<div class="t xl" style="left:274.95px;top:614.75px;color:#262626">10.05.2018</div>
<div class="t xl" style="left:287.45px;top:614.75px;color:#262626">11.05.2018</div>
<div class="t xl" style="left:299.95px;top:614.75px;color:#d23a44">12.05.2018</div>
<div class="t xl" style="left:312.45px;top:614.75px;color:#d23a44">13.05.2018</div>
<div class="t xl" style="left:324.95px;top:614.75px;color:#262626">14.05.2018</div>
<div class="t xl" style="left:337.45px;top:614.75px;color:#262626">15.05.2018</div>
<div class="t xl" style="left:349.95px;top:614.75px;color:#262626">16.05.2018</div>
<div class="t xl" style="left:362.45px;top:614.75px;color:#262626">17.05.2018</div>
<div class="t xl" style="left:374.95px;top:614.75px;color:#262626">18.05.2018</div>
<div class="t xl" style="left:387.45px;top:614.75px;color:#d23a44">19.05.2018</div>
<div class="t xl" style="left:399.95px;top:614.75px;color:#d23a44">20.05.2018</div>
<div class="t xl" style="left:412.45px;top:614.75px;color:#262626">21.05.2018</div>
<div class="t xl" style="left:424.95px;top:614.75px;color:#262626">22.05.2018</div>
<div class="t xl" style="left:437.45px;top:614.75px;color:#262626">23.05.2018</div>
<div class="t xl" style="left:449.95px;top:614.75px;color:#262626">24.05.2018</div>
<div class="t xl" style="left:462.45px;top:614.75px;color:#262626">25.05.2018</div>
<div class="t xl" style="left:474.95px;top:614.75px;color:#d23a44">26.05.2018</div>
<div class="t xl" style="left:487.45px;top:614.75px;color:#d23a44">27.05.2018</div>
<div class="t xl" style="left:499.95px;top:614.75px;color:#262626">28.05.2018</div>
<div class="t xl" style="left:512.45px;top:614.75px;color:#262626">29.05.2018</div>
<div class="t xl" style="left:524.95px;top:614.75px;color:#262626">30.05.2018</div>
<div class="t xl" style="left:537.45px;top:614.75px;color:#262626">31.05.2018</div>
<div class="t xl" style="left:549.95px;top:614.75px;color:#262626">01.06.2018</div>
<div class="t xl" style="left:562.45px;top:614.75px;color:#d23a44">02.06.2018</div>
<div class="t xl" style="left:574.95px;top:614.75px;color:#d23a44">03.06.2018</div>
<div class="t xl" style="left:587.45px;top:614.75px;color:#262626">04.06.2018</div>
<div class="t xl" style="left:599.95px;top:614.75px;color:#262626">05.06.2018</div>
<div class="t xl" style="left:612.45px;top:614.75px;color:#262626">06.06.2018</div>
<div class="t" style="left:-154.80px;top:460.53px;width:400px;font-size:7.05px;line-height:8.46px;text-align:center;color:#262626;font-weight:700;-webkit-text-stroke:0.2px #262626;">22,0%</div>
<div class="t" style="left:-117.60px;top:454.43px;width:400px;font-size:7.05px;line-height:8.46px;text-align:center;color:#262626;font-weight:700;-webkit-text-stroke:0.2px #262626;">23,0%</div>
<div class="t" style="left:-41.50px;top:470.63px;width:400px;font-size:7.05px;line-height:8.46px;text-align:center;color:#262626;font-weight:700;-webkit-text-stroke:0.2px #262626;">19,8%</div>
<div class="t" style="left:-31.50px;top:490.33px;width:400px;font-size:7.05px;line-height:8.46px;text-align:center;color:#262626;font-weight:700;-webkit-text-stroke:0.2px #262626;">18,7%</div>
<div class="t" style="left:-15.00px;top:472.53px;width:400px;font-size:7.05px;line-height:8.46px;text-align:center;color:#262626;font-weight:700;-webkit-text-stroke:0.2px #262626;">19,1%</div>
<div class="t" style="left:-5.80px;top:512.73px;width:400px;font-size:7.05px;line-height:8.46px;text-align:center;color:#262626;font-weight:700;-webkit-text-stroke:0.2px #262626;">15,0%</div>
<div class="t" style="left:7.70px;top:411.43px;width:400px;font-size:7.05px;line-height:8.46px;text-align:center;color:#262626;font-weight:700;-webkit-text-stroke:0.2px #262626;">28,6%</div>
<div class="t" style="left:21.00px;top:392.23px;width:400px;font-size:7.05px;line-height:8.46px;text-align:center;color:#262626;font-weight:700;-webkit-text-stroke:0.2px #262626;">33,1%</div>
<div class="t" style="left:57.20px;top:403.53px;width:400px;font-size:7.05px;line-height:8.46px;text-align:center;color:#262626;font-weight:700;-webkit-text-stroke:0.2px #262626;">31,3%</div>
<div class="t" style="left:69.90px;top:480.33px;width:400px;font-size:7.05px;line-height:8.46px;text-align:center;color:#262626;font-weight:700;-webkit-text-stroke:0.2px #262626;">18,4%</div>
<div class="t" style="left:106.40px;top:481.03px;width:400px;font-size:7.05px;line-height:8.46px;text-align:center;color:#262626;font-weight:700;-webkit-text-stroke:0.2px #262626;">18,8%</div>
<div class="t" style="left:144.60px;top:483.03px;width:400px;font-size:7.05px;line-height:8.46px;text-align:center;color:#262626;font-weight:700;-webkit-text-stroke:0.2px #262626;">18,1%</div>
<div class="t" style="left:205.00px;top:439.63px;width:400px;font-size:7.05px;line-height:8.46px;text-align:center;color:#262626;font-weight:700;-webkit-text-stroke:0.2px #262626;">25,1%</div>
<div class="t" style="left:232.80px;top:451.03px;width:400px;font-size:7.05px;line-height:8.46px;text-align:center;color:#262626;font-weight:700;-webkit-text-stroke:0.2px #262626;">23,6%</div>
<div class="t" style="left:286.00px;top:482.83px;width:400px;font-size:7.05px;line-height:8.46px;text-align:center;color:#262626;font-weight:700;-webkit-text-stroke:0.2px #262626;">18,0%</div>
<div class="t" style="left:319.90px;top:486.23px;width:400px;font-size:7.05px;line-height:8.46px;text-align:center;color:#262626;font-weight:700;-webkit-text-stroke:0.2px #262626;">17,8%</div>
<div class="t" style="left:378.40px;top:497.83px;width:400px;font-size:7.05px;line-height:8.46px;text-align:center;color:#262626;font-weight:700;-webkit-text-stroke:0.2px #262626;">15,3%</div>
<div class="t" style="left:406.00px;top:502.83px;width:400px;font-size:7.05px;line-height:8.46px;text-align:center;color:#262626;font-weight:700;-webkit-text-stroke:0.2px #262626;">14,1%</div>
<div class="t" style="left:69.50px;top:584.18px;width:400px;font-size:6.2px;line-height:7.44px;text-align:left;color:#222;-webkit-text-stroke:0.2px #222;">14,4%</div>
<div class="t" style="left:69.50px;top:592.13px;width:400px;font-size:6.2px;line-height:7.44px;text-align:left;color:#222;-webkit-text-stroke:0.2px #222;">Тренер</div>
<div class="t" style="left:157.00px;top:584.18px;width:400px;font-size:6.2px;line-height:7.44px;text-align:left;color:#222;-webkit-text-stroke:0.2px #222;">15,1%</div>
<div class="t" style="left:157.00px;top:592.13px;width:400px;font-size:6.2px;line-height:7.44px;text-align:left;color:#222;-webkit-text-stroke:0.2px #222;">Тренер</div>
<div class="t" style="left:244.50px;top:576.23px;width:400px;font-size:6.2px;line-height:7.44px;text-align:left;color:#222;-webkit-text-stroke:0.2px #222;">23,9%</div>
<div class="t" style="left:244.50px;top:584.18px;width:400px;font-size:6.2px;line-height:7.44px;text-align:left;color:#222;-webkit-text-stroke:0.2px #222;">Мстители: Война</div>
<div class="t" style="left:244.50px;top:592.13px;width:400px;font-size:6.2px;line-height:7.44px;text-align:left;color:#222;-webkit-text-stroke:0.2px #222;">бесконечности</div>
<div class="t" style="left:332.00px;top:576.23px;width:400px;font-size:6.2px;line-height:7.44px;text-align:left;color:#222;-webkit-text-stroke:0.2px #222;">12,8%</div>
<div class="t" style="left:332.00px;top:584.18px;width:400px;font-size:6.2px;line-height:7.44px;text-align:left;color:#222;-webkit-text-stroke:0.2px #222;">Мстители: Война</div>
<div class="t" style="left:332.00px;top:592.13px;width:400px;font-size:6.2px;line-height:7.44px;text-align:left;color:#222;-webkit-text-stroke:0.2px #222;">бесконечности</div>
<div class="t" style="left:419.50px;top:584.18px;width:400px;font-size:6.2px;line-height:7.44px;text-align:left;color:#222;-webkit-text-stroke:0.2px #222;">17,9%</div>
<div class="t" style="left:419.50px;top:592.13px;width:400px;font-size:6.2px;line-height:7.44px;text-align:left;color:#222;-webkit-text-stroke:0.2px #222;">Дэдпул 2</div>
<div class="t" style="left:507.00px;top:584.18px;width:400px;font-size:6.2px;line-height:7.44px;text-align:left;color:#222;-webkit-text-stroke:0.2px #222;">14,0%</div>
<div class="t" style="left:507.00px;top:592.13px;width:400px;font-size:6.2px;line-height:7.44px;text-align:left;color:#222;-webkit-text-stroke:0.2px #222;">Дэдпул 2</div>
<div class="t" style="left:594.50px;top:584.18px;width:400px;font-size:6.2px;line-height:7.44px;text-align:left;color:#222;-webkit-text-stroke:0.2px #222;">12,3%</div>
<div class="t" style="left:594.50px;top:592.13px;width:400px;font-size:6.2px;line-height:7.44px;text-align:left;color:#222;-webkit-text-stroke:0.2px #222;">Дэдпул 2</div>
</body></html>
